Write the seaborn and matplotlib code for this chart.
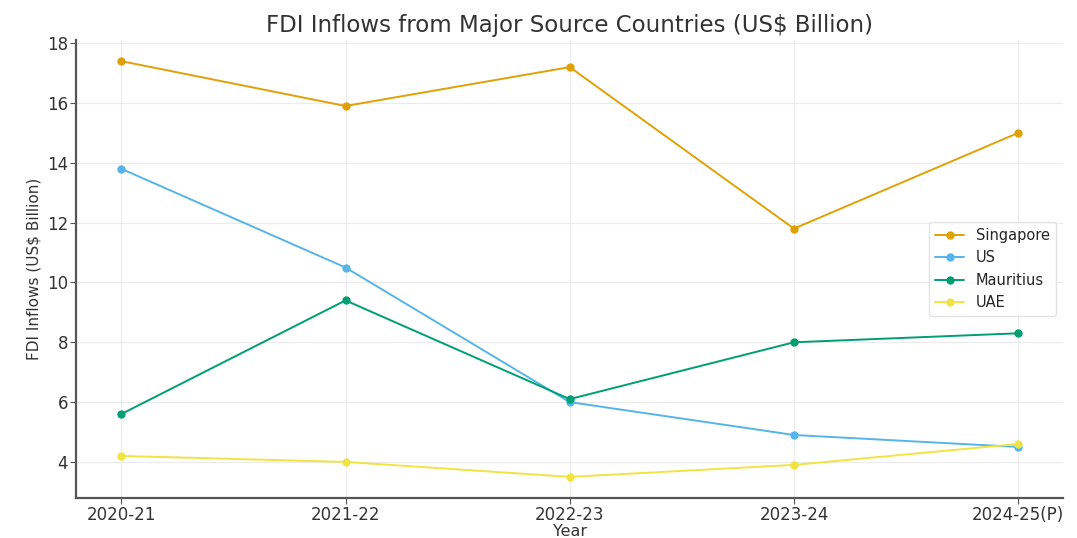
import pandas as pd
import matplotlib
matplotlib.use("Agg")
import matplotlib.pyplot as plt
import seaborn as sns

years = ["2020-21", "2021-22", "2022-23", "2023-24", "2024-25(P)"]
singapore = [17.4, 15.9, 17.2, 11.8, 15.0]
us = [13.8, 10.5, 6.0, 4.9, 4.5]
mauritius = [5.6, 9.4, 6.1, 8.0, 8.3]
uae = [4.2, 4.0, 3.5, 3.9, 4.6]

countries = ["Singapore", "US", "Mauritius", "UAE"]
colors = ["#DFA106", "#56B4E9", "#009E73", "#F0E442"]

# long-form table for seaborn
frames = []
for name, vals in zip(countries, [singapore, us, mauritius, uae]):
    frames.append(pd.DataFrame({"Year": years, "Value": vals, "Country": name}))
data = pd.concat(frames, ignore_index=True)

sns.set_style("whitegrid", {"grid.color": "#ebebeb", "axes.edgecolor": "#555555"})
plt.rcParams["font.family"] = ["DejaVu Sans"]

fig, ax = plt.subplots(figsize=(10.77, 5.38), dpi=100)
sns.lineplot(data=data, x="Year", y="Value", hue="Country", palette=colors,
             marker="o", markersize=6, markeredgewidth=0, linewidth=1.4,
             sort=False, ax=ax)

sns.despine(ax=ax)
ax.spines["left"].set_linewidth(1.6)
ax.spines["bottom"].set_linewidth(1.6)
ax.tick_params(axis="both", which="both", length=4, pad=2, color="#555555",
               labelsize=12, labelcolor="#333333", left=True, bottom=True)
ax.set_title("FDI Inflows from Major Source Countries (US$ Billion)", fontsize=16.5, color="#333333")
ax.set_xlabel("Year", fontsize=11.5, color="#333333", labelpad=0)
ax.set_ylabel("FDI Inflows (US$ Billion)", fontsize=11, color="#333333")

leg = ax.legend(loc="center right", fontsize=10.5, frameon=True, title=None)
leg.get_frame().set_edgecolor("#dddddd")

fig.subplots_adjust(left=0.071, right=0.987, top=0.925, bottom=0.075)
fig.savefig("out.png", dpi=100)
